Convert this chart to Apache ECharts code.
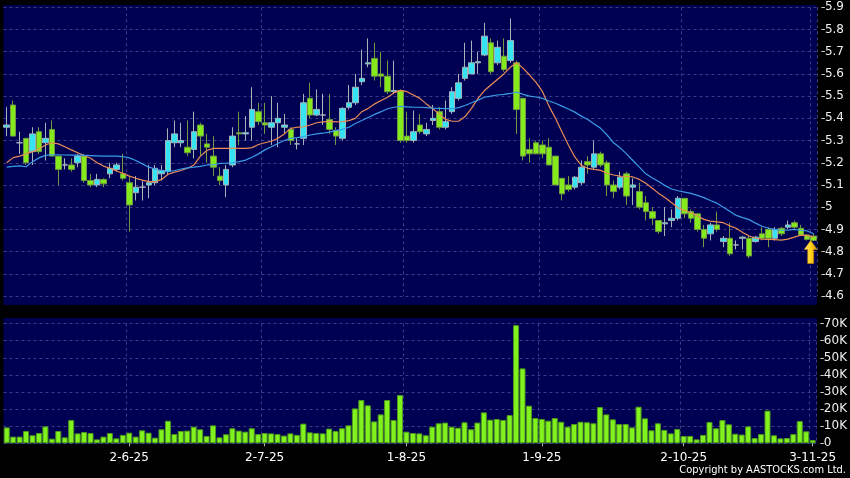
<!DOCTYPE html>
<html><head><meta charset="utf-8">
<script src="https://cdn.jsdelivr.net/npm/echarts@6/dist/echarts.min.js"></script>
<style>html,body{margin:0;padding:0;background:#000;}#c{width:850px;height:478px;}</style>
</head><body><div id="c"></div>
<script>
// Trading days per month (HK, 2025)
const daysMay = [6,7,8,9,12,13,14,15,16,19,20,21,22,23,26,27,28,29,30];
const daysJun = [2,3,4,5,6,9,10,11,12,13,16,17,18,19,20,23,24,25,26,27,30];
const daysJul = [2,3,4,7,8,9,10,11,14,15,16,17,18,21,22,23,24,25,28,29,30,31];
const daysAug = [1,4,5,6,7,8,11,12,13,14,15,18,19,20,21,22,25,26,27,28,29];
const daysSep = [1,2,3,4,5,8,9,10,11,12,15,16,17,18,19,22,23,24,25,26,29,30];
const daysOct = [2,3,6,8,9,10,13,14,15,16,17,20,21,22,23,24,27,28,30,31];
const daysNov = [3];

const open = [5.36,5.46,5.29,5.31,5.25,5.34,5.29,5.35,5.23,5.19,5.19,5.20,5.23,5.12,5.10,5.125,5.15,5.17,5.15,5.11,
5.065,5.09,5.10,5.11,5.15,5.16,5.29,5.29,5.27,5.26,5.37,5.285,5.23,5.14,5.10,5.19,5.335,5.33,5.36,5.43,
5.38,5.36,5.38,5.36,5.35,5.285,5.31,5.49,5.415,5.415,5.395,5.345,5.31,5.45,5.47,5.565,5.645,5.67,5.60,5.59,
5.52,5.525,5.32,5.30,5.37,5.33,5.39,5.43,5.36,5.43,5.49,5.58,5.60,5.65,5.685,5.74,5.65,5.68,5.66,5.65,
5.49,5.26,5.29,5.28,5.27,5.23,5.13,5.10,5.09,5.11,5.205,5.18,5.24,5.20,5.10,5.09,5.15,5.09,5.07,5.02,
4.98,4.94,4.925,4.94,4.95,5.04,4.98,4.97,4.90,4.88,4.92,4.845,4.86,4.83,4.86,4.86,4.845,4.88,4.90,4.86,
4.905,4.91,4.93,4.905,4.875,4.87];
const close = [5.37,5.32,5.29,5.20,5.33,5.25,5.31,5.23,5.17,5.19,5.17,5.23,5.12,5.10,5.125,5.105,5.175,5.19,5.13,5.01,
5.09,5.09,5.11,5.175,5.165,5.30,5.33,5.30,5.245,5.34,5.32,5.27,5.18,5.12,5.17,5.32,5.33,5.335,5.44,5.385,
5.37,5.38,5.40,5.37,5.30,5.285,5.47,5.415,5.44,5.415,5.35,5.32,5.445,5.47,5.54,5.58,5.65,5.59,5.59,5.52,
5.525,5.30,5.30,5.34,5.34,5.35,5.40,5.36,5.385,5.52,5.56,5.63,5.65,5.655,5.77,5.61,5.72,5.62,5.75,5.44,
5.23,5.24,5.24,5.24,5.19,5.10,5.06,5.08,5.135,5.18,5.19,5.24,5.19,5.10,5.07,5.135,5.05,5.10,5.00,4.98,
4.95,4.89,4.93,4.95,5.04,4.97,4.95,4.90,4.86,4.92,4.90,4.86,4.79,4.83,4.865,4.78,4.865,4.86,4.86,4.90,
4.88,4.92,4.91,4.875,4.855,4.85];
const low = [5.32,5.32,5.24,5.19,5.19,5.24,5.21,5.23,5.10,5.17,5.16,5.18,5.11,5.09,5.09,5.09,5.13,5.16,5.12,4.89,
5.03,5.03,5.04,5.10,5.12,5.145,5.27,5.27,5.23,5.22,5.23,5.20,5.14,5.10,5.045,5.18,5.28,5.30,5.30,5.37,
5.33,5.28,5.27,5.33,5.28,5.26,5.28,5.40,5.41,5.37,5.33,5.28,5.30,5.44,5.46,5.55,5.63,5.57,5.54,5.51,
5.51,5.29,5.29,5.29,5.33,5.32,5.37,5.35,5.35,5.42,5.48,5.57,5.60,5.60,5.68,5.60,5.64,5.61,5.65,5.33,
5.21,5.20,5.24,5.22,5.19,5.10,5.03,5.07,5.08,5.10,5.15,5.17,5.18,5.05,5.04,5.08,5.01,5.01,4.99,4.94,
4.92,4.88,4.87,4.91,4.94,4.95,4.93,4.89,4.82,4.85,4.89,4.82,4.78,4.81,4.81,4.77,4.84,4.85,4.82,4.85,
4.87,4.90,4.90,4.87,4.85,4.85];
const high = [5.45,5.48,5.34,5.31,5.36,5.36,5.38,5.39,5.23,5.22,5.22,5.24,5.24,5.15,5.15,5.13,5.20,5.20,5.24,5.14,
5.14,5.12,5.19,5.19,5.19,5.355,5.39,5.38,5.39,5.43,5.38,5.33,5.32,5.18,5.19,5.36,5.43,5.41,5.54,5.47,
5.47,5.50,5.47,5.42,5.36,5.31,5.51,5.56,5.53,5.51,5.51,5.36,5.45,5.55,5.60,5.71,5.76,5.74,5.70,5.66,
5.66,5.53,5.43,5.435,5.42,5.38,5.46,5.45,5.48,5.54,5.60,5.74,5.75,5.70,5.83,5.76,5.75,5.76,5.85,5.66,
5.49,5.31,5.30,5.30,5.31,5.23,5.13,5.14,5.14,5.21,5.23,5.30,5.25,5.21,5.12,5.16,5.16,5.13,5.11,5.05,
5.00,4.94,5.00,4.99,5.05,5.04,4.99,4.97,4.92,4.93,4.98,4.87,4.93,4.85,4.87,4.87,4.87,4.91,4.91,4.91,
4.91,4.94,4.94,4.92,4.88,4.88];
const ma10 = [5.20,5.223,5.23,5.24,5.25,5.262,5.28,5.29,5.285,5.272,5.258,5.245,5.232,5.22,5.20,5.185,5.175,5.163,5.152,5.14,
5.13,5.122,5.115,5.115,5.125,5.148,5.158,5.165,5.175,5.19,5.23,5.255,5.265,5.265,5.265,5.265,5.265,5.265,5.268,5.282,
5.29,5.297,5.31,5.33,5.355,5.36,5.362,5.37,5.38,5.384,5.386,5.384,5.385,5.39,5.40,5.43,5.445,5.465,5.48,5.495,
5.515,5.526,5.52,5.505,5.49,5.465,5.443,5.42,5.395,5.387,5.387,5.408,5.445,5.49,5.525,5.55,5.575,5.60,5.63,5.65,
5.625,5.595,5.562,5.52,5.455,5.40,5.34,5.28,5.226,5.188,5.175,5.17,5.166,5.152,5.145,5.14,5.138,5.136,5.125,5.108,
5.085,5.062,5.042,5.02,4.997,4.985,4.975,4.96,4.945,4.937,4.934,4.93,4.916,4.905,4.886,4.87,4.86,4.856,4.855,4.854,
4.852,4.856,4.865,4.874,4.872,4.865];
const ma20 = [5.18,5.184,5.186,5.182,5.205,5.222,5.233,5.236,5.236,5.235,5.234,5.234,5.233,5.232,5.231,5.23,5.23,5.23,5.228,5.222,
5.21,5.195,5.18,5.172,5.165,5.16,5.165,5.172,5.177,5.18,5.184,5.19,5.19,5.197,5.198,5.20,5.205,5.212,5.225,5.24,
5.258,5.272,5.287,5.30,5.31,5.313,5.318,5.325,5.33,5.333,5.338,5.346,5.35,5.36,5.377,5.39,5.404,5.418,5.43,5.443,
5.45,5.454,5.452,5.45,5.45,5.448,5.446,5.445,5.444,5.444,5.448,5.458,5.47,5.482,5.495,5.50,5.505,5.508,5.512,5.518,
5.508,5.50,5.496,5.49,5.478,5.468,5.455,5.442,5.428,5.41,5.395,5.375,5.355,5.325,5.29,5.268,5.24,5.21,5.18,5.15,
5.131,5.116,5.097,5.082,5.074,5.068,5.062,5.053,5.043,5.03,5.018,5.0,4.982,4.963,4.953,4.944,4.928,4.914,4.905,4.90,
4.896,4.896,4.90,4.896,4.893,4.88];
const volumeK = [9.3,3.9,3.9,7.2,4.7,6.0,9.9,2.7,7.2,3.5,13.6,5.8,6.6,6.0,2.3,3.9,6.0,2.9,4.9,6.2,
3.9,7.6,6.2,3.3,8.2,13.2,5.4,7.2,7.4,9.7,8.2,4.3,10.5,3.5,5.3,8.8,7.4,6.8,8.8,5.4,
6.0,5.8,5.4,4.5,5.8,4.9,11.5,6.4,6.0,5.8,8.6,7.2,8.8,10.5,20.4,25.3,22.2,12.8,16.9,25.3,
13.6,28.2,6.8,6.0,5.8,4.7,9.7,11.7,12.1,9.7,9.1,12.3,8.2,12.1,18.1,13.8,14.2,13.6,16.5,69.1,
43.8,22.0,14.8,14.2,13.2,14.8,12.6,9.7,11.3,12.6,12.3,11.7,21.2,16.9,14.0,11.3,11.3,9.3,21.4,14.6,
7.6,11.7,7.8,5.8,8.4,4.3,4.3,2.3,4.9,12.5,8.8,13.6,11.1,5.6,5.1,9.9,3.1,5.4,19.1,4.7,
2.9,3.1,5.4,13.0,7.0,1.9];
const volTicks = [0,10,20,30,40,50,60,70];

const monthDays = [[5,daysMay],[6,daysJun],[7,daysJul],[8,daysAug],[9,daysSep],[10,daysOct],[11,daysNov]];
const cats = [];
monthDays.forEach(([m, ds]) => ds.forEach(d => cats.push(d + '-' + m + '-25')));
const monthOf = s => s.split('-')[1];
const isMonthStart = (idx) => idx > 0 && monthOf(cats[idx]) !== monthOf(cats[idx - 1]);

const GRID = '#3c3c86';
const NAVY = '#000052';
const last = cats.length - 1;

const chart = echarts.init(document.getElementById('c'), null, {renderer: 'canvas'});
chart.setOption({
  backgroundColor: '#000',
  animation: false,
  graphic: [
    {type: 'rect', z: -10, silent: true, shape: {x: 3.5, y: 5, width: 813.4, height: 300}, style: {fill: NAVY}},
    {type: 'rect', z: -10, silent: true, shape: {x: 3.5, y: 318, width: 813.4, height: 126}, style: {fill: NAVY}},
    {type: 'text', right: 4, bottom: 2, silent: true,
     style: {text: 'Copyright by AASTOCKS.com Ltd.', fill: '#ffffff', font: '11px "DejaVu Sans Condensed", "DejaVu Sans"'}}
  ],
  grid: [
    {left: 3.5, right: 33.1, top: 7.3, height: 288.7},
    {left: 3.5, right: 33.1, top: 323.6, height: 119.7}
  ],
  xAxis: [
    {type: 'category', gridIndex: 0, data: cats, boundaryGap: true,
     axisLine: {show: false}, axisTick: {show: false}, axisLabel: {show: false},
     splitLine: {show: true, interval: isMonthStart, lineStyle: {color: GRID, type: [3, 3], width: 1}}},
    {type: 'category', gridIndex: 1, data: cats, boundaryGap: true, offset: 3,
     axisLine: {show: false},
     axisTick: {show: true, alignWithLabel: true, interval: isMonthStart, length: 3, lineStyle: {color: '#bbbbbb'}},
     axisLabel: {interval: isMonthStart, color: '#ffffff', fontSize: 12, fontFamily: 'DejaVu Sans', margin: 6},
     splitLine: {show: true, interval: isMonthStart, lineStyle: {color: GRID, type: [3, 3], width: 1}}}
  ],
  yAxis: [
    {type: 'value', gridIndex: 0, position: 'right', min: 4.6, max: 5.9, interval: 0.1, offset: 4.5,
     axisLine: {show: false},
     axisTick: {show: true, length: 3.5, lineStyle: {color: '#cccccc'}},
     axisLabel: {color: '#eeeeee', fontSize: 12, fontFamily: 'DejaVu Sans', margin: 3.5,
                 formatter: v => String(Math.round(v * 10) / 10)},
     splitLine: {show: true, lineStyle: {color: GRID, type: [3, 3], width: 1}}},
    {type: 'value', gridIndex: 1, position: 'right', min: volTicks[0], max: volTicks[volTicks.length - 1], interval: 10, offset: 4.5,
     axisLine: {show: false},
     axisTick: {show: true, length: 3.5, lineStyle: {color: '#cccccc'}},
     axisLabel: {color: '#eeeeee', fontSize: 12, fontFamily: 'DejaVu Sans', margin: 3.5,
                 formatter: v => v === 0 ? '0' : v + 'K'},
     splitLine: {show: true, lineStyle: {color: GRID, type: [3, 3], width: 1}}}
  ],
  series: [
    {type: 'candlestick', xAxisIndex: 0, yAxisIndex: 0, barWidth: 6,
     data: open.map((o, i) => [o, close[i], low[i], high[i]]),
     itemStyle: {color: '#35e3f2', color0: '#84ea1c', borderColor: '#a2b4b8', borderColor0: '#6f9a40', borderColorDoji: '#b0b8c0', borderWidth: 1},
     markPoint: {
       silent: true,
       data: [{coord: [cats[last], low[last]], symbol: 'path://M6.5,0 L13,9 L9.5,9 L9.5,23 L3.5,23 L3.5,9 L0,9 Z',
               symbolSize: [13, 23], symbolOffset: [-3, 11.5],
               itemStyle: {color: new echarts.graphic.LinearGradient(0, 0, 1, 0, [{offset: 0, color: '#ffe680'}, {offset: 0.5, color: '#ffd21a'}, {offset: 1, color: '#e09a00'}]),
                           borderColor: '#c88a00', borderWidth: 0.5},
               label: {show: false}}]
     }},
    {type: 'line', xAxisIndex: 0, yAxisIndex: 0, data: ma10, symbol: 'none', smooth: false,
     lineStyle: {color: '#e98c55', width: 1.2}},
    {type: 'line', xAxisIndex: 0, yAxisIndex: 0, data: ma20, symbol: 'none', smooth: false,
     lineStyle: {color: '#3b9be6', width: 1.2}},
    {type: 'bar', xAxisIndex: 1, yAxisIndex: 1, data: volumeK, barWidth: 6,
     itemStyle: {color: '#82f21e', borderColor: '#4e9a1c', borderWidth: 1}}
  ]
});
</script></body></html>
